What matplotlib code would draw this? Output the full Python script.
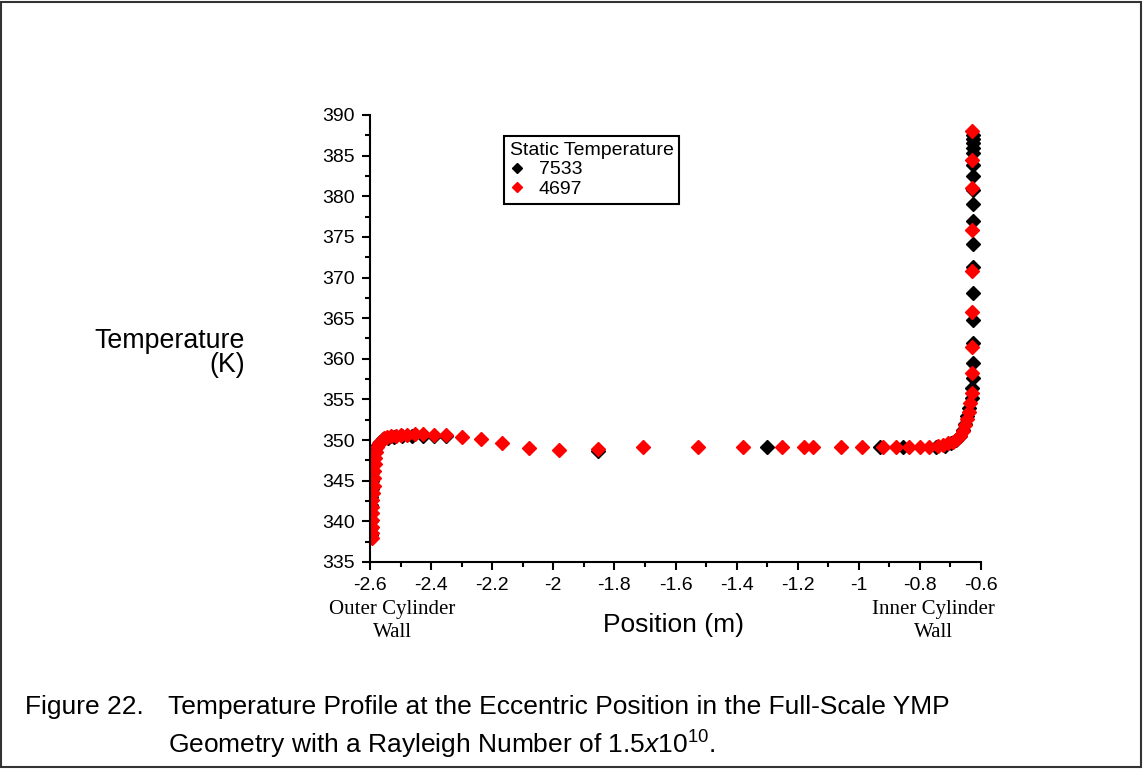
import matplotlib.pyplot as plt
import matplotlib.ticker as ticker
from matplotlib.patches import Rectangle

plt.rcParams['font.family'] = ['Liberation Sans', 'DejaVu Sans']
plt.rcParams['mathtext.fontset'] = 'custom'
plt.rcParams['mathtext.rm'] = 'Liberation Sans'
plt.rcParams['mathtext.it'] = 'Liberation Sans:italic'

# series 7533 (black)
x_7533 = [-2.598, -2.598, -2.598, -2.597, -2.597, -2.596, -2.595, -2.594, -2.592, -2.590,
          -2.587, -2.583, -2.577, -2.568, -2.556, -2.540, -2.520, -2.494, -2.462, -2.425,
          -2.391, -2.351, -1.855, -1.302, -0.931, -0.854, -0.747, -0.718, -0.697, -0.682,
          -0.670, -0.660, -0.652, -0.646, -0.641,
          -0.628, -0.628, -0.627, -0.627, -0.627, -0.627, -0.627, -0.627, -0.627, -0.627,
          -0.627, -0.627, -0.627, -0.627, -0.627, -0.627, -0.627, -0.627, -0.627]
t_7533 = [338.3, 339.2, 340.1, 341.0, 342.0, 343.0, 344.0, 345.0, 346.0, 346.9,
          347.8, 348.6, 349.3, 349.8, 350.1, 350.3, 350.4, 350.5, 350.5, 350.5,
          350.5, 350.5, 348.7, 349.1, 349.1, 349.1, 349.1, 349.3, 349.6, 350.0,
          350.5, 351.2, 352.0, 353.0, 354.0,
          355.2, 356.4, 357.6, 359.5, 362.0, 364.8, 368.1, 371.3, 374.1, 376.9,
          379.0, 380.8, 382.5, 383.8, 385.3, 385.9, 386.5, 387.0, 387.5]

# series 4697 (red)
x_4697 = [-2.594, -2.594, -2.594, -2.594, -2.594, -2.593, -2.592, -2.590, -2.588, -2.587,
          -2.586, -2.585, -2.583, -2.580, -2.576, -2.570, -2.562, -2.553, -2.543, -2.530,
          -2.515, -2.498, -2.478, -2.452, -2.425, -2.390, -2.352, -2.298, -2.238, -2.167,
          -2.080, -1.980, -1.855, -1.707, -1.527, -1.378, -1.253, -1.179, -1.149, -1.059,
          -0.988, -0.922, -0.878, -0.835, -0.800, -0.769, -0.740, -0.723, -0.707, -0.693,
          -0.680, -0.669, -0.660, -0.652, -0.647, -0.641, -0.637,
          -0.630, -0.629, -0.629, -0.628, -0.628, -0.628, -0.628, -0.628, -0.628]
t_4697 = [337.9, 338.6, 339.3, 340.2, 341.0, 341.8, 342.6, 343.5, 344.4, 345.3,
          346.2, 347.0, 347.8, 348.5, 349.1, 349.6, 349.9, 350.2, 350.4, 350.5,
          350.5, 350.6, 350.6, 350.7, 350.7, 350.6, 350.6, 350.4, 350.1, 349.7,
          349.0, 348.8, 348.9, 349.2, 349.2, 349.2, 349.2, 349.2, 349.2, 349.2,
          349.2, 349.2, 349.2, 349.2, 349.2, 349.2, 349.3, 349.4, 349.6, 349.8,
          350.1, 350.5, 351.1, 351.8, 352.6, 353.4, 354.6,
          355.8, 358.2, 361.5, 365.7, 370.8, 375.9, 381.0, 384.4, 388.0]

fig = plt.figure(figsize=(11.43, 7.69), dpi=100)
fig.patches.append(Rectangle((0.001, 0.002), 0.997, 0.996, transform=fig.transFigure,
                             fill=False, edgecolor='#333333', linewidth=1.5))

ax = fig.add_axes([0.3237, 0.2692, 0.5346, 0.5813])
ax.plot(x_7533, t_7533, 'D', color='black', markersize=6.8, linestyle='none', label='7533')
ax.plot(x_4697, t_4697, 'D', color='#ff0000', markersize=6.8, linestyle='none', label='4697')

ax.set_xlim(-2.6, -0.6)
ax.set_ylim(335, 390)
for s in ['top', 'right']:
    ax.spines[s].set_visible(False)
for s in ['left', 'bottom']:
    ax.spines[s].set_linewidth(1.5)

ax.xaxis.set_major_locator(ticker.MultipleLocator(0.2))
ax.xaxis.set_minor_locator(ticker.MultipleLocator(0.1))
ax.yaxis.set_major_locator(ticker.MultipleLocator(5))
ax.yaxis.set_minor_locator(ticker.MultipleLocator(2.5))
ax.xaxis.set_major_formatter(ticker.FuncFormatter(lambda v, p: f"{v:.1f}".rstrip('0').rstrip('.')))
ax.tick_params(which='major', direction='out', length=6, width=1.5, labelsize=14, pad=5)
ax.tick_params(which='minor', direction='out', length=3.5, width=1.5)

leg = ax.legend(title='Static Temperature', loc='upper left', bbox_to_anchor=(0.219, 0.953),
                borderaxespad=0, fancybox=False, edgecolor='black', framealpha=1,
                fontsize=14, title_fontsize=14, handlelength=0.8, handletextpad=0.7,
                markerscale=0.7, borderpad=0.3, labelspacing=0.1, alignment='left')
leg.get_frame().set_linewidth(1.5)

fig.text(0.2144, 0.557, 'Temperature', fontsize=19.3, ha='right', va='center')
fig.text(0.2144, 0.525, '(K)', fontsize=19.3, ha='right', va='center')
fig.text(0.589, 0.187, 'Position (m)', fontsize=19, ha='center', va='center')
fig.text(0.343, 0.207, 'Outer Cylinder', fontsize=15, family='Liberation Serif', ha='center', va='center')
fig.text(0.343, 0.177, 'Wall', fontsize=15, family='Liberation Serif', ha='center', va='center')
fig.text(0.817, 0.207, 'Inner Cylinder', fontsize=15, family='Liberation Serif', ha='center', va='center')
fig.text(0.817, 0.177, 'Wall', fontsize=15, family='Liberation Serif', ha='center', va='center')

fig.text(0.022, 0.080, 'Figure 22.', fontsize=19, ha='left', va='center')
fig.text(0.147, 0.080, 'Temperature Profile at the Eccentric Position in the Full-Scale YMP',
         fontsize=19, ha='left', va='center')
fig.text(0.147, 0.031, r'Geometry with a Rayleigh Number of 1.5$x$10$^{10}$.',
         fontsize=19, ha='left', va='center')

fig.savefig('out.png', dpi=100)
